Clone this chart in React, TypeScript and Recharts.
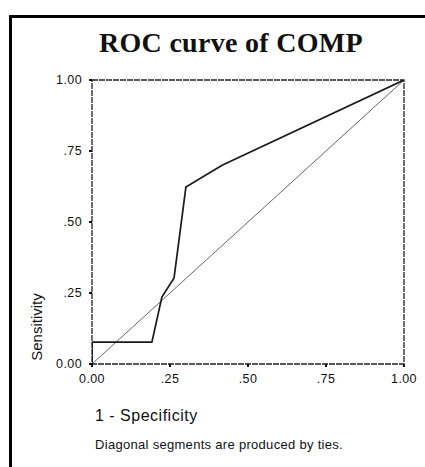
import { Line, LineChart, ReferenceArea, XAxis, YAxis } from "recharts";

// ROC curve points (1 - specificity, sensitivity)
const fpr = [0, 0, 0.192, 0.224, 0.263, 0.301, 0.417, 1];
const tpr = [0, 0.077, 0.077, 0.236, 0.303, 0.623, 0.7, 1];

// chance diagonal
const refX = [0, 1];
const refY = [0, 1];

const ticks = [0, 0.25, 0.5, 0.75, 1];

const curve = fpr.map((x, i) => ({ x, y: tpr[i] }));
const diagonal = refX.map((x, i) => ({ x, y: refY[i] }));

const fmt = (v: number) => (v === 0 ? "0.00" : v === 1 ? "1.00" : v.toFixed(2).replace(/^0/, ""));

const sans = "'Liberation Sans', Arial, sans-serif";
const tickStyle = { fontSize: 12.5, fill: "#111", fontFamily: sans, letterSpacing: 0.4 };

export default function App() {
  return (
    <div style={{ position: "absolute", left: 0, top: 0, width: 425, height: 467, background: "#fff" }}>
      <div
        style={{
          position: "absolute",
          left: 9,
          top: 15,
          width: 416,
          height: 452,
          boxSizing: "border-box",
          borderLeft: "3px solid #000",
          borderTop: "3.5px solid #000"
        }}
      />
      <div
        style={{
          position: "absolute",
          left: 31,
          top: 29,
          width: 400,
          textAlign: "center",
          fontFamily: "'Liberation Serif', 'Times New Roman', serif",
          fontWeight: "bold",
          fontSize: 28,
          lineHeight: "28px",
          letterSpacing: 0.3,
          color: "#111"
        }}
      >
        ROC curve of COMP
      </div>
      <div style={{ position: "absolute", left: 0, top: 0 }}>
        <LineChart width={425} height={467} margin={{ top: 80, right: 21, bottom: 0, left: 0 }}>
          <XAxis
            dataKey="x"
            type="number"
            domain={[0, 1]}
            ticks={ticks}
            tickFormatter={fmt}
            axisLine={false}
            tickSize={3}
            tickMargin={7}
            tickLine={{ stroke: "#111", strokeWidth: 2 }}
            tick={tickStyle}
            height={103}
            allowDataOverflow
          />
          <YAxis
            type="number"
            domain={[0, 1]}
            ticks={ticks}
            tickFormatter={fmt}
            axisLine={false}
            tickSize={3}
            tickMargin={7}
            tickLine={{ stroke: "#111", strokeWidth: 2 }}
            tick={tickStyle}
            width={92}
            allowDataOverflow
          />
          <ReferenceArea
            x1={0}
            x2={1}
            y1={0}
            y2={1}
            fill="none"
            fillOpacity={0}
            stroke="#222"
            strokeWidth={1.3}
            strokeDasharray="6 1"
            ifOverflow="visible"
          />
          <Line
            data={diagonal}
            dataKey="y"
            type="linear"
            stroke="#555"
            strokeWidth={0.9}
            dot={false}
            isAnimationActive={false}
          />
          <Line
            data={curve}
            dataKey="y"
            type="linear"
            stroke="#1a1a1a"
            strokeWidth={1.7}
            dot={false}
            isAnimationActive={false}
          />
        </LineChart>
      </div>
      <div
        style={{
          position: "absolute",
          left: 36,
          top: 327,
          transform: "translate(-50%, -50%) rotate(-90deg)",
          whiteSpace: "nowrap",
          fontFamily: sans,
          fontSize: 15,
          lineHeight: "15px",
          color: "#111"
        }}
      >
        Sensitivity
      </div>
      <div
        style={{
          position: "absolute",
          left: 95,
          top: 408,
          fontFamily: sans,
          fontSize: 16,
          lineHeight: "16px",
          letterSpacing: 0.5,
          color: "#111",
          whiteSpace: "nowrap"
        }}
      >
        1 - Specificity
      </div>
      <div
        style={{
          position: "absolute",
          left: 95,
          top: 438,
          fontFamily: sans,
          fontSize: 13,
          lineHeight: "13px",
          letterSpacing: 0.3,
          color: "#111",
          whiteSpace: "nowrap"
        }}
      >
        Diagonal segments are produced by ties.
      </div>
    </div>
  );
}
